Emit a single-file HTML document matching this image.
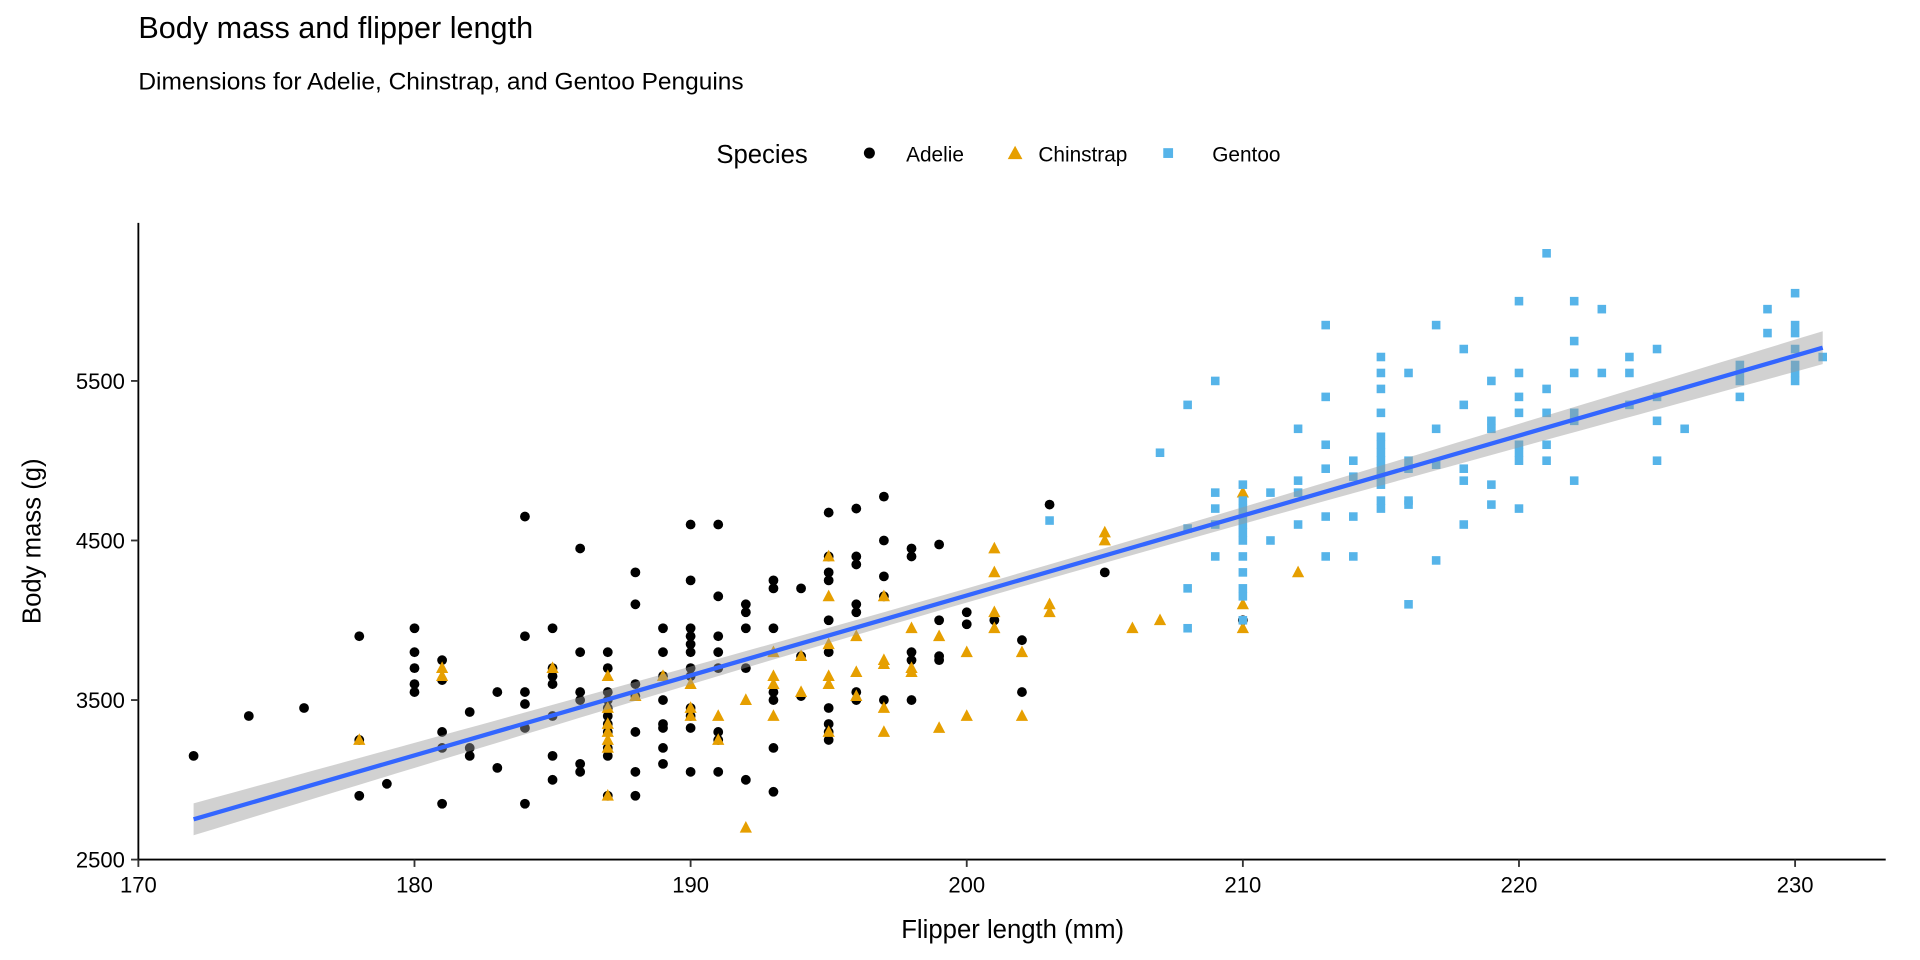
<!DOCTYPE html>
<html><head><meta charset="utf-8">
<style>
html,body{margin:0;padding:0;background:#fff;}
svg{display:block;font-family:"Liberation Sans",Arial,sans-serif;}
</style></head>
<body>
<svg id="chart" width="1920" height="960" viewBox="0 0 1568 784">
<text x="113" y="31" font-size="25" fill="#000">Body mass and flipper length</text>
<text x="113" y="73" font-size="20" fill="#000">Dimensions for Adelie, Chinstrap, and Gentoo Penguins</text>
<g>
<text x="585" y="133" font-size="21">Species</text>
<g><circle cx="710" cy="125" r="4.5" fill="#000"/><text x="740" y="132" font-size="17">Adelie</text></g>
<g><polygon points="829,119 835,130 823,130" fill="#E69F00"/><text x="848" y="132" font-size="17">Chinstrap</text></g>
<g><rect x="950" y="121" width="8" height="8" fill="#56B4E9"/><text x="990" y="132" font-size="17">Gentoo</text></g>
</g>
<g id="plot"></g>
<text x="827" y="766" font-size="21" text-anchor="middle">Flipper length (mm)</text>
<text transform="translate(33,442) rotate(-90)" font-size="21" text-anchor="middle">Body mass (g)</text>
</svg>
<script>
const xTicks=[170,180,190,200,210,220,230];
const yTicks=[2500,3500,4500,5500];
const adelie=[[172,3150],[174,3400],[176,3450],[178,3900],[178,3250],[178,2900],[179,2975],
[180,3950],[180,3800],[180,3700],[180,3600],[180,3550],[181,3750],[181,3625],[181,3300],[181,3200],[181,2850],
[182,3425],[182,3200],[182,3150],[183,3550],[183,3075],[184,4650],[184,3900],[184,3550],[184,3475],[184,3325],[184,2850],
[185,3950],[185,3700],[185,3650],[185,3600],[185,3400],[185,3150],[185,3000],[186,4450],[186,3800],[186,3550],[186,3500],[186,3100],[186,3050],
[187,3800],[187,3700],[187,3550],[187,3500],[187,3450],[187,3400],[187,3350],[187,3300],[187,3200],[187,3150],[187,2900],
[188,4300],[188,4100],[188,3600],[188,3525],[188,3300],[188,3050],[188,2900],
[189,3950],[189,3800],[189,3650],[189,3500],[189,3350],[189,3325],[189,3200],[189,3100],
[190,4600],[190,4250],[190,3950],[190,3900],[190,3850],[190,3800],[190,3700],[190,3650],[190,3450],[190,3400],[190,3325],[190,3050],
[191,4600],[191,4150],[191,3900],[191,3800],[191,3700],[191,3300],[191,3250],[191,3050],
[192,4100],[192,4050],[192,3950],[192,3700],[192,3000],[193,4250],[193,4200],[193,3950],[193,3550],[193,3500],[193,3200],[193,2925],
[194,4200],[194,3775],[194,3525],[195,4675],[195,4400],[195,4300],[195,4250],[195,4000],[195,3800],[195,3450],[195,3350],[195,3300],[195,3250],
[196,4700],[196,4400],[196,4350],[196,4100],[196,4050],[196,3550],[196,3500],[197,4775],[197,4500],[197,4275],[197,4150],[197,3500],
[198,4450],[198,4400],[198,3800],[198,3750],[198,3500],[199,4475],[199,4000],[199,3775],[199,3750],[200,4050],[200,3975],[201,4000],
[202,3875],[202,3550],[203,4725],[205,4300],[210,4000]];
const chinstrap=[[178,3250],[181,3700],[181,3650],[185,3700],[187,3650],[187,3450],[187,3350],[187,3300],[187,3250],[187,3200],[187,2900],
[188,3525],[189,3650],[190,3600],[190,3450],[190,3400],[191,3400],[191,3250],[192,3500],[192,2700],[193,3800],[193,3650],[193,3600],[193,3400],
[194,3775],[194,3550],[195,4400],[195,4150],[195,3850],[195,3650],[195,3600],[195,3300],[196,3900],[196,3675],[196,3525],
[197,4150],[197,3725],[197,3750],[197,3450],[197,3300],[198,3950],[198,3700],[198,3675],[199,3900],[199,3325],[200,3800],[200,3400],
[201,4450],[201,4300],[201,4050],[201,3950],[202,3800],[202,3400],[203,4100],[203,4050],[205,4550],[205,4500],[206,3950],[207,4000],
[210,4800],[210,4100],[210,3950],[212,4300]];
const gentoo=[[203,4625],[207,5050],[208,5350],[208,4575],[208,4200],[208,3950],[209,5500],[209,4800],[209,4700],[209,4600],[209,4400],
[210,4850],[210,4750],[210,4700],[210,4650],[210,4600],[210,4550],[210,4500],[210,4400],[210,4300],[210,4200],[210,4150],[210,4000],
[211,4800],[211,4500],[212,5200],[212,4875],[212,4800],[212,4600],[213,5850],[213,5400],[213,5100],[213,4950],[213,4650],[213,4400],
[214,5000],[214,4900],[214,4650],[214,4400],[215,5650],[215,5550],[215,5450],[215,5300],[215,5150],[215,5100],[215,5050],[215,5000],[215,4950],[215,4900],[215,4850],[215,4750],[215,4700],
[216,5550],[216,5000],[216,4950],[216,4750],[216,4725],[216,4100],[217,5850],[217,5200],[217,4975],[217,4375],
[218,5700],[218,5350],[218,4950],[218,4875],[218,4600],[219,5500],[219,5250],[219,5200],[219,4850],[219,4725],
[220,6000],[220,5550],[220,5400],[220,5300],[220,5100],[220,5050],[220,5000],[220,4700],[221,6300],[221,5450],[221,5300],[221,5100],[221,5000],
[222,6000],[222,5750],[222,5550],[222,5300],[222,5250],[222,4875],[223,5950],[223,5550],[224,5650],[224,5550],[224,5350],
[225,5700],[225,5400],[225,5250],[225,5000],[226,5200],[228,5600],[228,5550],[228,5500],[228,5400],[229,5950],[229,5800],
[230,6050],[230,5850],[230,5800],[230,5700],[230,5600],[230,5550],[230,5500],[231,5650]];

const NS="http://www.w3.org/2000/svg";
const g=document.getElementById('plot');
const X=v=>113+(v-170)*22.55;
const Y=v=>702-(v-2500)*0.1303;
function mk(tag,attrs,parent){const e=document.createElementNS(NS,tag);for(const k in attrs)e.setAttribute(k,attrs[k]);(parent||g).appendChild(e);return e;}

const pts=mk('g',{});


adelie.forEach(d=>{const e=mk('circle',{cx:X(d[0]),cy:Y(d[1]),r:4,fill:'#000'},pts);

});
chinstrap.forEach(d=>{const x=X(d[0]),y=Y(d[1]);const e=mk('polygon',{points:`${x},${y-5.5} ${x+5},${y+4} ${x-5},${y+4}`,fill:'#E69F00'},pts);

});
gentoo.forEach(d=>{const e=mk('rect',{x:X(d[0])-3.5,y:Y(d[1])-3.5,width:7,height:7,fill:'#56B4E9'},pts);

});

const all=adelie.concat(chinstrap,gentoo);
const n=all.length;
const mx=all.reduce((s,d)=>s+d[0],0)/n, my=all.reduce((s,d)=>s+d[1],0)/n;
let sxx=0,sxy=0;all.forEach(d=>{sxx+=(d[0]-mx)**2;sxy+=(d[0]-mx)*(d[1]-my);});
const b=sxy/sxx,a=my-b*mx;
let sse=0;all.forEach(d=>{sse+=(d[1]-a-b*d[0])**2;});
const s=Math.sqrt(sse/(n-2));
const xs=all.map(d=>d[0]);const x0=Math.min(...xs),x1=Math.max(...xs);
const up=[],lo=[];
for(let i=0;i<=80;i++){const x=x0+(x1-x0)*i/80;const se=1.97*s*Math.sqrt(1/n+(x-mx)**2/sxx);const f=a+b*x;
up.push(`${X(x)},${Y(f+se)}`);lo.unshift(`${X(x)},${Y(f-se)}`);}
const band=mk('polygon',{points:up.concat(lo).join(' '),fill:'#999999','fill-opacity':0.45});


const line=mk('line',{x1:X(x0),y1:Y(a+b*x0),x2:X(x1),y2:Y(a+b*x1),stroke:'#3366FF','stroke-width':3.5});



const ax=mk('g',{});


mk('line',{x1:113,y1:182,x2:113,y2:703,stroke:'#000','stroke-width':1.5},ax);
mk('line',{x1:112,y1:702,x2:1540,y2:702,stroke:'#000','stroke-width':1.5},ax);
xTicks.forEach(t=>{mk('line',{x1:X(t),y1:702,x2:X(t),y2:708,stroke:'#333','stroke-width':1.5},ax);
const e=mk('text',{x:X(t),y:729,'font-size':18,'text-anchor':'middle',fill:'#000'},ax);e.textContent=t;

});
yTicks.forEach(t=>{mk('line',{x1:107,y1:Y(t),x2:113,y2:Y(t),stroke:'#333','stroke-width':1.5},ax);
const e=mk('text',{x:102,y:Y(t)+6.5,'font-size':18,'text-anchor':'end',fill:'#000'},ax);e.textContent=t;

});
</script>
</body></html>
